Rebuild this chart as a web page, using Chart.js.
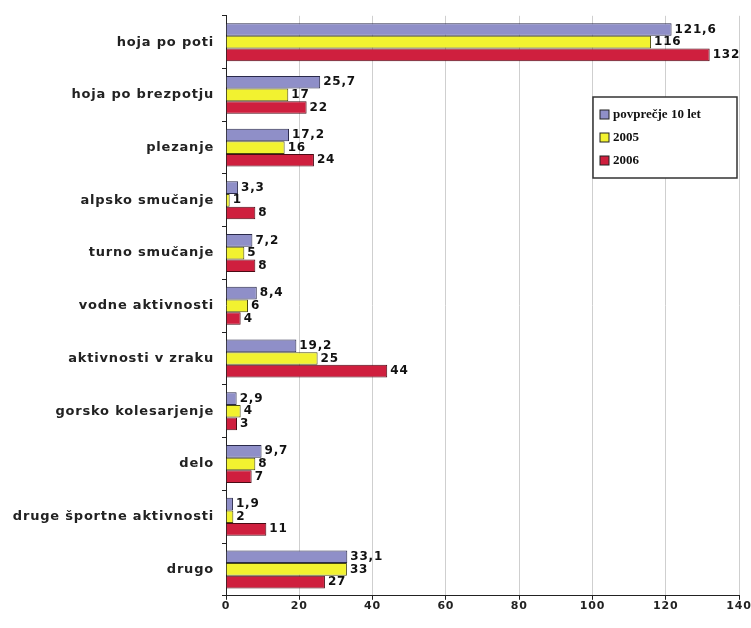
<!DOCTYPE html>
<html>
<head>
<meta charset="utf-8">
<script src="https://cdn.jsdelivr.net/npm/chart.js@4.4.1/dist/chart.umd.min.js"></script>
<style>
    html, body { margin: 0; padding: 0; background: #ffffff; }
    #wrap { width: 751px; height: 628px; position: relative; }
</style>
</head>
<body>
<div id="wrap"><canvas id="chart-activities"></canvas></div>
<script>
// Activities chart - average of 10 years vs 2005 vs 2006

const categories = [
    'hoja po poti', 'hoja po brezpotju', 'plezanje', 'alpsko smučanje', 'turno smučanje',
    'vodne aktivnosti', 'aktivnosti v zraku', 'gorsko kolesarjenje', 'delo',
    'druge športne aktivnosti', 'drugo'
];
const avg10 = [121.6, 25.7, 17.2, 3.3, 7.2, 8.4, 19.2, 2.9, 9.7, 1.9, 33.1];
const y2005 = [116, 17, 16, 1, 5, 6, 25, 4, 8, 2, 33];
const y2006 = [132, 22, 24, 8, 8, 4, 44, 3, 7, 11, 27];
const seriesNames = ['povprečje 10 let', '2005', '2006'];
const xTicks = [0, 20, 40, 60, 80, 100, 120, 140];

const labelFont = "'DejaVu Sans', 'Liberation Sans', sans-serif";

// Value labels at the end of each bar (decimal comma)
const barValuePlugin = {
    id: 'barValues',
    afterDatasetsDraw(chart) {
        const ctx = chart.ctx;
        ctx.save();
        ctx.font = 'bold 12px ' + labelFont;
        ctx.fillStyle = '#111';
        ctx.textBaseline = 'middle';
        ctx.textAlign = 'left';
        chart.data.datasets.forEach((ds, di) => {
            const meta = chart.getDatasetMeta(di);
            meta.data.forEach((bar, i) => {
                const txt = String(ds.data[i]).replace('.', ',');
                ctx.fillText(txt, bar.x + 3, bar.y);
            });
        });
        ctx.restore();
    }
};

// wider category labels
const spacingPlugin = {
    id: 'labelSpacing',
    beforeDraw(chart) { chart.ctx.letterSpacing = '0.8px'; },
    afterDraw(chart) { chart.ctx.letterSpacing = '0px'; }
};

const ctx = document.getElementById('chart-activities').getContext('2d');
new Chart(ctx, {
    type: 'bar',
    data: {
        labels: categories,
        datasets: [{
            label: seriesNames[0],
            data: avg10,
            backgroundColor: '#8f8fc8',
            borderColor: '#2a2a4a',
            borderWidth: 1
        }, {
            label: seriesNames[1],
            data: y2005,
            backgroundColor: '#f2f230',
            borderColor: '#4a4a10',
            borderWidth: 1
        }, {
            label: seriesNames[2],
            data: y2006,
            backgroundColor: '#cf1f3e',
            borderColor: '#4a0a14',
            borderWidth: 1
        }]
    },
    options: {
        indexAxis: 'y',
        responsive: true,
        maintainAspectRatio: false,
        animation: false,
        layout: { padding: { top: 14, right: 12, bottom: 15, left: 0 } },
        datasets: { bar: { categoryPercentage: 0.72, barPercentage: 1.0 } },
        plugins: {
            legend: { display: false },
            tooltip: { enabled: false }
        },
        scales: {
            x: {
                min: 0,
                max: 140,
                afterBuildTicks: (axis) => { axis.ticks = xTicks.map(v => ({ value: v })); },
                border: { color: '#222', width: 1 },
                grid: { color: '#cfcfcf', tickColor: '#222', tickLength: 4 },
                ticks: {
                    color: '#222',
                    font: { family: labelFont, size: 11, weight: 'bold' },
                    padding: 0
                }
            },
            y: {
                border: { color: '#222', width: 1 },
                grid: { drawOnChartArea: false, offset: true, tickColor: '#222', tickLength: 4 },
                ticks: {
                    color: '#222',
                    font: { family: labelFont, size: 13, weight: 'bold' },
                    padding: 8
                },
                afterFit: (axis) => { axis.width = 226; }
            }
        }
    },
    plugins: [spacingPlugin, barValuePlugin, {
        // legend box drawn in the upper right of the plot
        id: 'boxLegend',
        afterDraw(chart) {
            const c = chart.ctx;
            const x0 = 593, y0 = 97, w = 144, h = 81;
            c.save();
            c.letterSpacing = '0px';
            c.fillStyle = '#fff';
            c.fillRect(x0, y0, w, h);
            c.strokeStyle = '#333';
            c.lineWidth = 1.5;
            c.strokeRect(x0, y0, w, h);
            c.font = "bold 13px 'Liberation Serif', 'DejaVu Serif', serif";
            c.textBaseline = 'middle';
            chart.data.datasets.forEach((ds, i) => {
                const yy = y0 + 17 + i * 23;
                c.fillStyle = ds.backgroundColor;
                c.fillRect(x0 + 7, yy - 4, 9, 9);
                c.strokeStyle = '#222';
                c.lineWidth = 1;
                c.strokeRect(x0 + 7, yy - 4, 9, 9);
                c.fillStyle = '#111';
                c.fillText(ds.label, x0 + 20, yy + 1);
            });
            c.restore();
        }
    }]
});
</script>
</body>
</html>
